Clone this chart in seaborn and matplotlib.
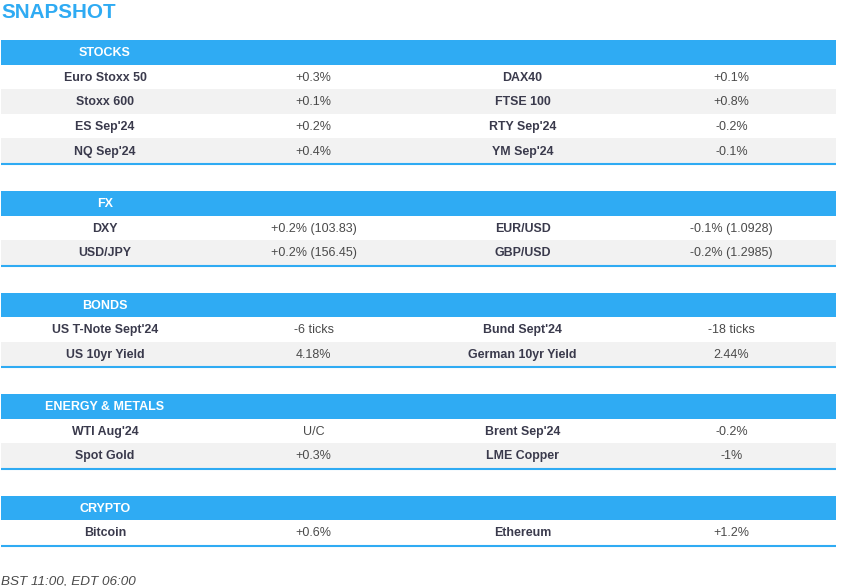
import matplotlib
matplotlib.use("Agg")
import matplotlib.pyplot as plt
import seaborn as sns

sections = ["STOCKS", "FX", "BONDS", "ENERGY & METALS", "CRYPTO"]
names_left = [["Euro Stoxx 50", "Stoxx 600", "ES Sep'24", "NQ Sep'24"],
              ["DXY", "USD/JPY"],
              ["US T-Note Sept'24", "US 10yr Yield"],
              ["WTI Aug'24", "Spot Gold"],
              ["Bitcoin"]]
values_left = [["+0.3%", "+0.1%", "+0.2%", "+0.4%"],
               ["+0.2% (103.83)", "+0.2% (156.45)"],
               ["-6 ticks", "4.18%"],
               ["U/C", "+0.3%"],
               ["+0.6%"]]
names_right = [["DAX40", "FTSE 100", "RTY Sep'24", "YM Sep'24"],
               ["EUR/USD", "GBP/USD"],
               ["Bund Sept'24", "German 10yr Yield"],
               ["Brent Sep'24", "LME Copper"],
               ["Ethereum"]]
values_right = [["+0.1%", "+0.8%", "-0.2%", "-0.1%"],
                ["-0.1% (1.0928)", "-0.2% (1.2985)"],
                ["-18 ticks", "2.44%"],
                ["-0.2%", "-1%"],
                ["+1.2%"]]

section_tops = [40, 191, 292.5, 394, 495.5]
col_x = [105, 313.5, 522.5, 731.5]
LEFT, RIGHT = 1, 836
HEAD_H, ROW_H = 24.6, 24.6
TEXT_DY = 0.9
BLUE, STRIPE, INK, GREY = "#2FABF3", "#F2F2F2", "#3A3A4C", "#4A4A4A"
FONT = "Liberation Sans"
NAME_SIZE, VALUE_SIZE = 8.95, 9.0

sns.set_theme(style="white")
fig, ax = plt.subplots(figsize=(8.48, 5.86), dpi=100)
ax.set_position([0, 0, 1, 1])
ax.set_xlim(0, 848)
ax.set_ylim(586, 0)
ax.set_xticks([])
ax.set_yticks([])
sns.despine(ax=ax, left=True, bottom=True)
ax.set_facecolor("white")

ax.text(1, 12.6, "SNAPSHOT", color=BLUE, fontsize=14.9, fontweight="bold",
        family=FONT, ha="left", va="center")

for s, title in enumerate(sections):
    top = section_tops[s]
    ax.fill_between([LEFT, RIGHT], top, top + HEAD_H, color=BLUE, lw=0)
    ax.text(col_x[0], top + HEAD_H / 2 + TEXT_DY, title, color="white", fontsize=9,
            fontweight="bold", family=FONT, ha="center", va="center")
    for r in range(len(names_left[s])):
        y0 = top + HEAD_H + r * ROW_H
        yc = y0 + ROW_H / 2 + TEXT_DY
        if r % 2 == 1:
            ax.fill_between([LEFT, RIGHT], y0, y0 + ROW_H, color=STRIPE, lw=0)
        ax.text(col_x[0], yc, names_left[s][r], color=INK, fontsize=NAME_SIZE,
                fontweight="bold", family=FONT, ha="center", va="center")
        ax.text(col_x[1], yc, values_left[s][r], color=GREY, fontsize=VALUE_SIZE,
                family=FONT, ha="center", va="center")
        ax.text(col_x[2], yc, names_right[s][r], color=INK, fontsize=NAME_SIZE,
                fontweight="bold", family=FONT, ha="center", va="center")
        ax.text(col_x[3], yc, values_right[s][r], color=GREY, fontsize=VALUE_SIZE,
                family=FONT, ha="center", va="center")
    bottom = top + HEAD_H + len(names_left[s]) * ROW_H
    ax.plot([LEFT, RIGHT], [bottom + 1, bottom + 1], color=BLUE, lw=1.5,
            solid_capstyle="butt")

ax.text(1, 581.5, "BST 11:00, EDT 06:00", color=GREY, fontsize=9.7, style="italic",
        family=FONT, ha="left", va="center")

fig.savefig("out.png", dpi=100)
